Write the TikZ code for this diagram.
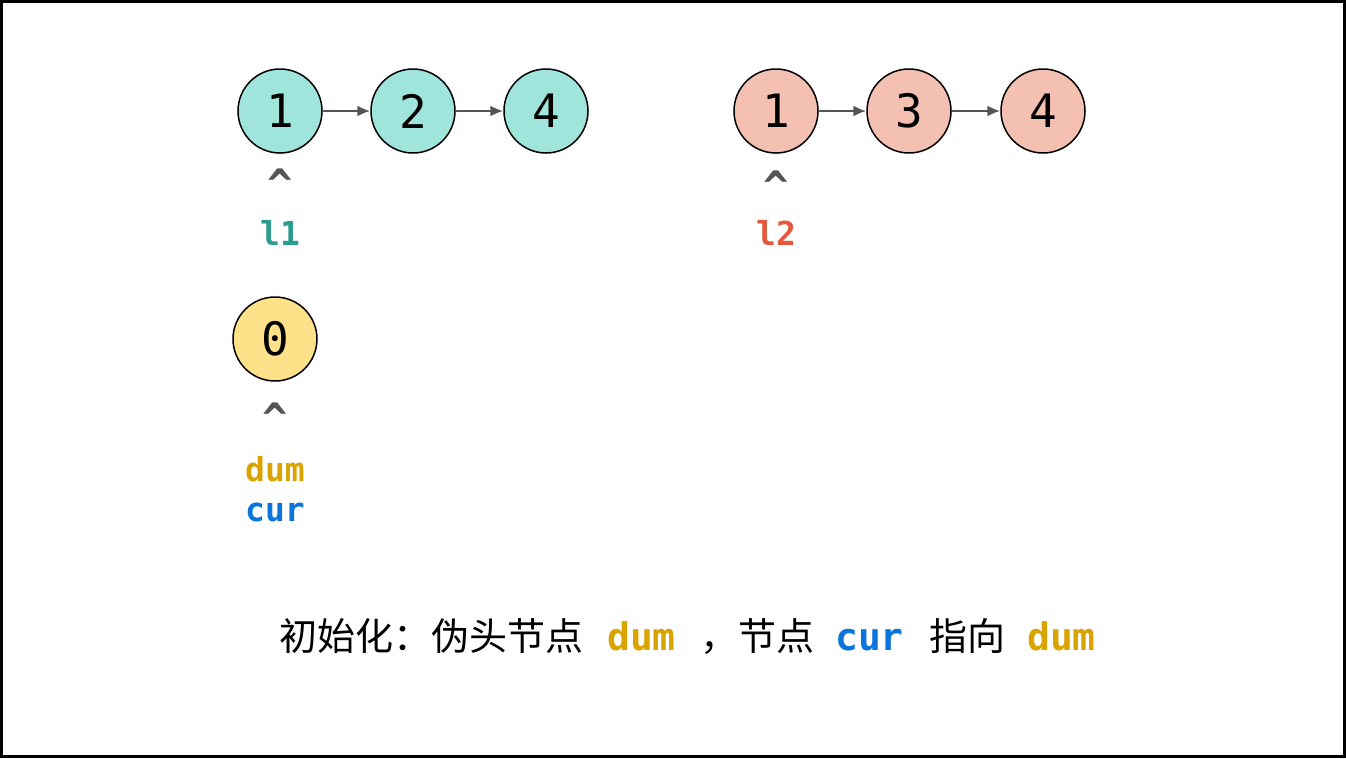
\documentclass[tikz,border=0pt]{standalone}
\usepackage{fontspec}
\setmonofont{DejaVu Sans Mono}
\newfontfamily\cjk{Noto Sans CJK SC}
\usetikzlibrary{arrows.meta}
\definecolor{tealfill}{HTML}{A0E5DC}
\definecolor{pinkfill}{HTML}{F4C0B2}
\definecolor{yelfill}{HTML}{FFE189}
\definecolor{tealtxt}{HTML}{2A9D8F}
\definecolor{redtxt}{HTML}{E4573D}
\definecolor{dumtxt}{HTML}{D9A300}
\definecolor{curtxt}{HTML}{0A74DA}
\definecolor{graytxt}{HTML}{555555}
\tikzset{
  listnode/.style={circle, draw=black, line width=1.5pt, minimum size=84pt, inner sep=0pt, font=\fontsize{46}{46}\selectfont\ttfamily},
  link/.style={draw=graytxt, line width=2.2pt, -{Latex[length=13pt,width=11pt]}},
  caret/.style={text=graytxt, font=\fontsize{42}{42}\selectfont\ttfamily\bfseries, inner sep=0pt},
  ptr/.style={font=\fontsize{33}{33}\selectfont\ttfamily\bfseries, inner sep=0pt},
  captext/.style={font=\fontsize{38}{38}\selectfont\cjk, inner sep=0pt, anchor=base west},
  capcode/.style={font=\fontsize{38}{38}\selectfont\ttfamily\bfseries, inner sep=0pt, anchor=base west}
}
\begin{document}
\begin{tikzpicture}[x=1pt,y=-1pt]
\useasboundingbox (0,0) rectangle (1346,758);
\draw[line width=3pt] (1.5,1.5) rectangle (1344.5,756.5);
% list 1
\node[listnode, fill=tealfill] (a1) at (280,111) {1};
\node[listnode, fill=tealfill] (a2) at (413,111) {2};
\node[listnode, fill=tealfill] (a3) at (546,111) {4};
\draw[link] (a1) -- (a2);
\draw[link] (a2) -- (a3);
% list 2
\node[listnode, fill=pinkfill] (b1) at (776,111) {1};
\node[listnode, fill=pinkfill] (b2) at (909,111) {3};
\node[listnode, fill=pinkfill] (b3) at (1043,111) {4};
\draw[link] (b1) -- (b2);
\draw[link] (b2) -- (b3);
% dummy
\node[listnode, fill=yelfill] (d0) at (275,339) {0};
% pointers
\node[caret] (c1) at (280,184) {\^{}};
\node[ptr, text=tealtxt] (l1) at (280,233) {l1};
\node[caret] (c2) at (776,186) {\^{}};
\node[ptr, text=redtxt] (l2) at (776,233) {l2};
\node[caret] (c3) at (275,418) {\^{}};
\node[ptr, text=dumtxt] (pd) at (275,469) {dum};
\node[ptr, text=curtxt] (pc) at (275,512) {cur};
% caption
\node[captext] (t1) at (279,650) {初始化：伪头节点};
\node[capcode, text=dumtxt] (t2) at (607,650) {dum};
\node[captext] (t3) at (700,650) {，节点};
\node[capcode, text=curtxt] (t4) at (835,650) {cur};
\node[captext] (t5) at (929,650) {指向};
\node[capcode, text=dumtxt] (t6) at (1027,650) {dum};
\end{tikzpicture}
\end{document}
